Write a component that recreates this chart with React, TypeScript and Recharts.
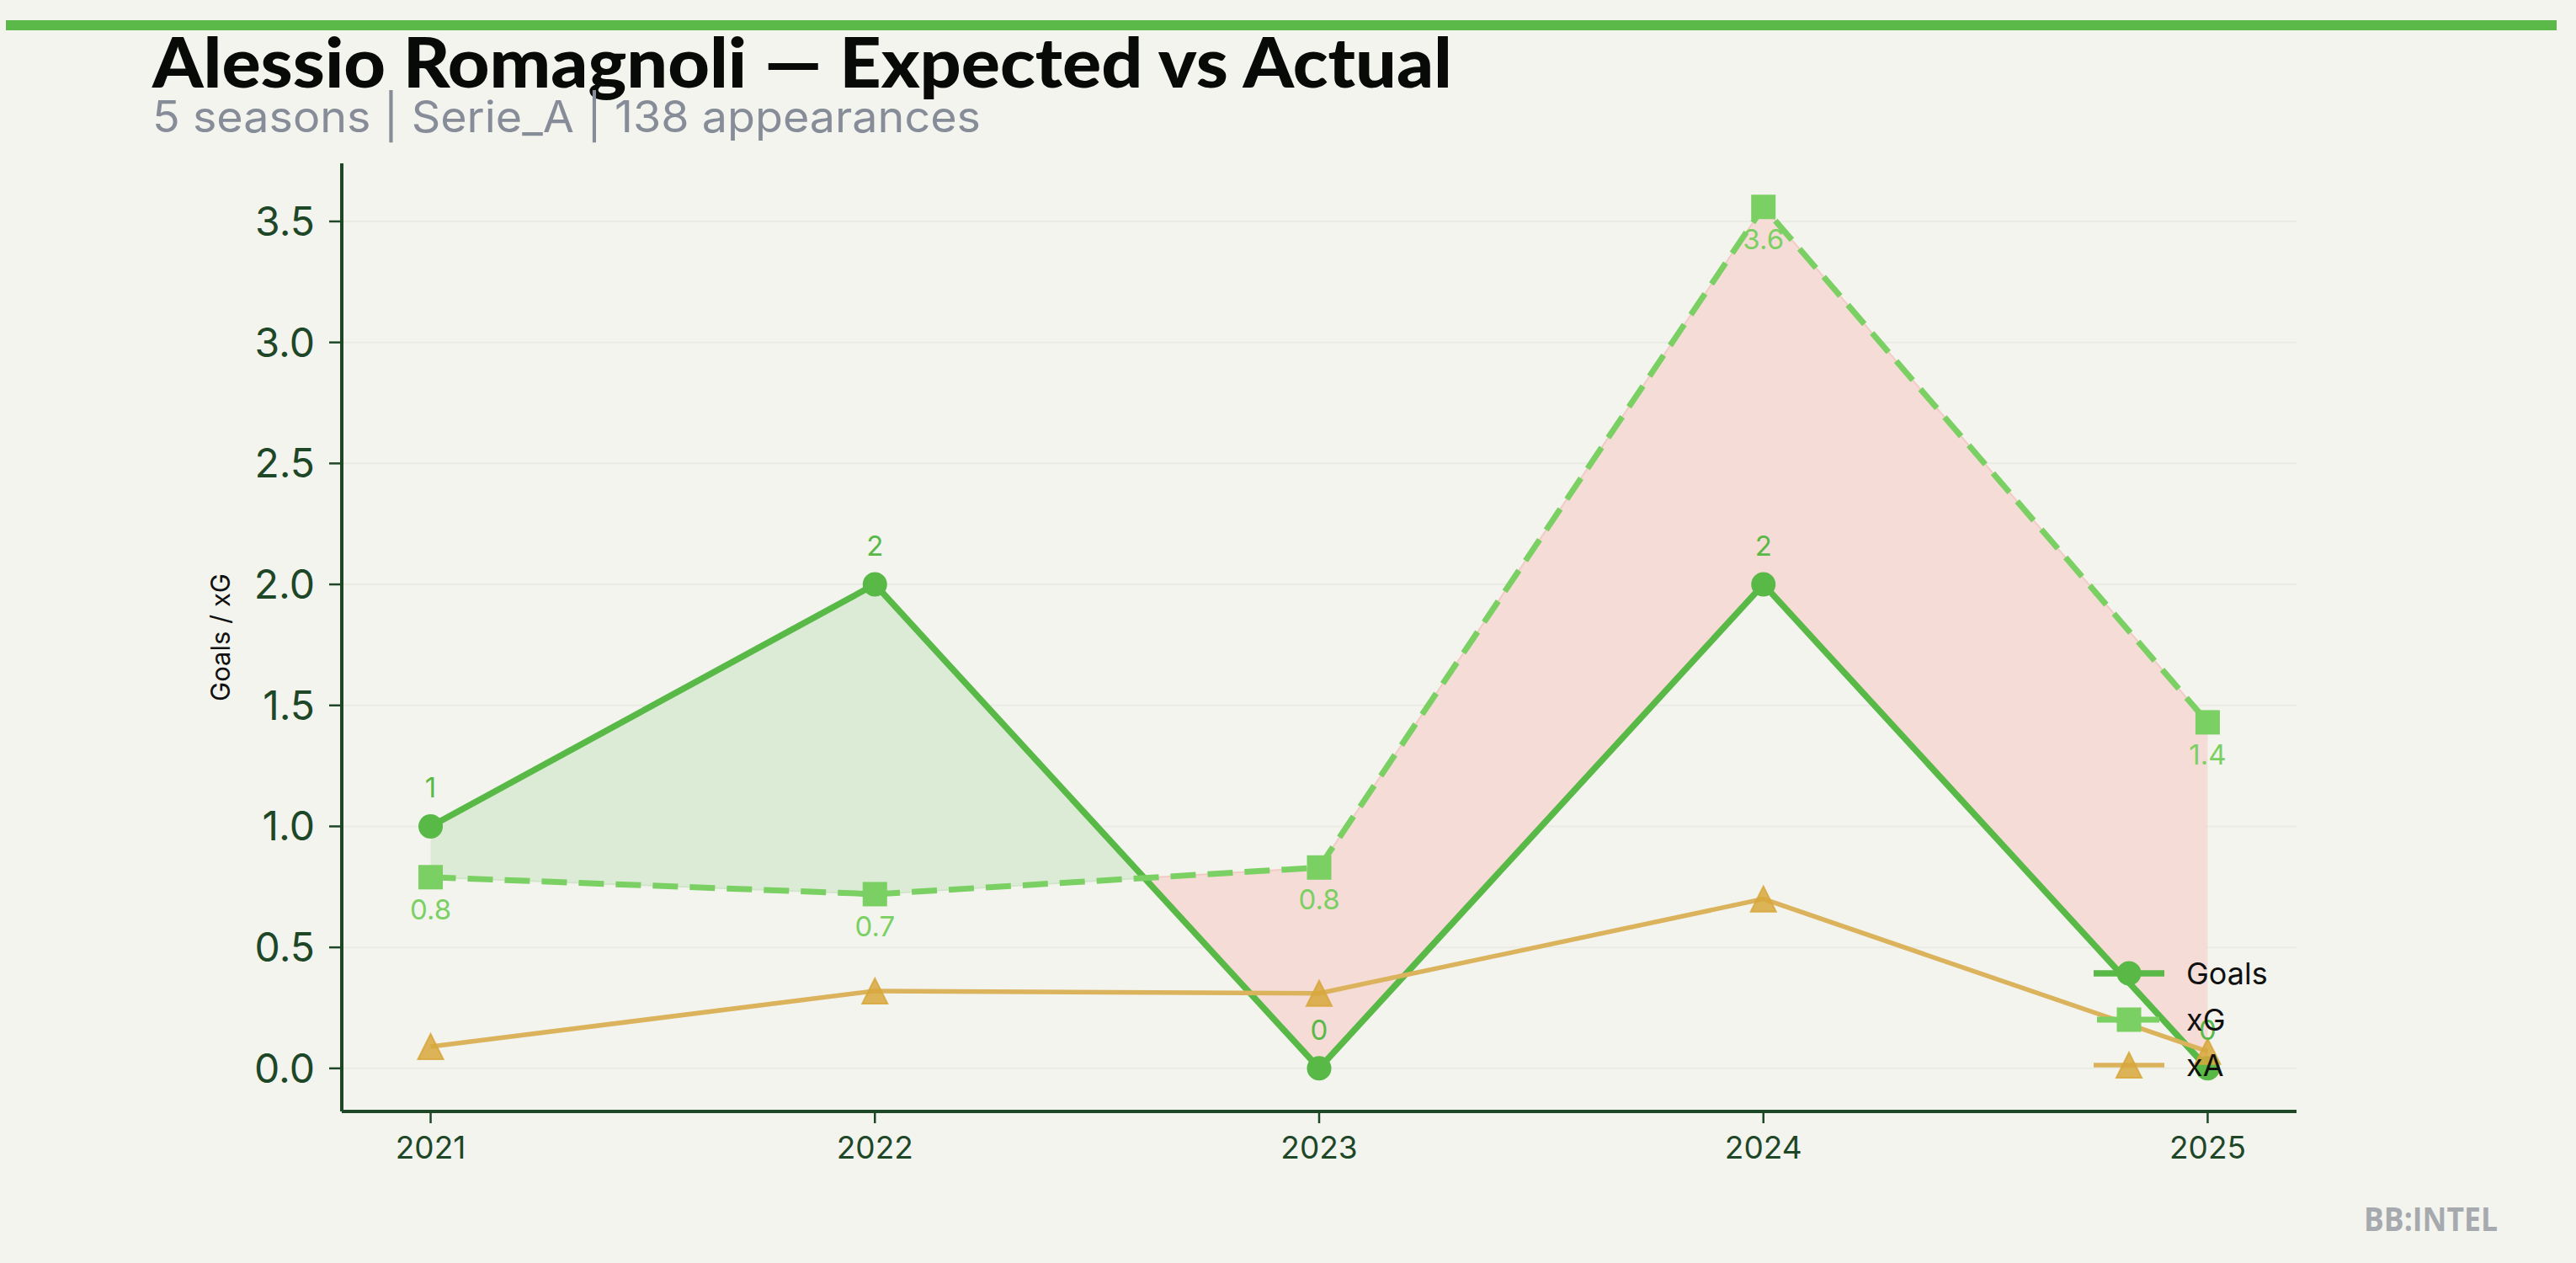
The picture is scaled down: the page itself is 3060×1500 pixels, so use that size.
import { ComposedChart, Line, Area, XAxis, YAxis, CartesianGrid, Legend, LabelList } from 'recharts'

// season values
const seasons = [2021, 2022, 2023, 2024, 2025]
const goals = [1, 2, 0, 2, 0]
const xgValues = [0.79, 0.72, 0.83, 3.56, 1.43]
const xaValues = [0.09, 0.32, 0.31, 0.7, 0.07]
const yTicks = [0, 0.5, 1, 1.5, 2, 2.5, 3, 3.5]
const seriesNames = ['Goals', 'xG', 'xA']

const BG = '#f4f4ef'
const GOALS = '#58b947'
const XG = '#7bd063'
const XA = '#dbb35d'
const XA_MARK = '#d7a73b'
const AXIS = '#1d4727'

type Row = {
  season: number
  goals: number | null
  xg: number | null
  xa: number | null
  over: [number, number] | null
  under: [number, number] | null
}

// rows for lines + the two fills (goals above xG = green, below = red),
// with an extra row where the two lines cross so the fills meet cleanly
const rows: Row[] = []
seasons.forEach((s, i) => {
  const g = goals[i]
  const x = xgValues[i]
  rows.push({
    season: s,
    goals: g,
    xg: x,
    xa: xaValues[i],
    over: g >= x ? [x, g] : null,
    under: x >= g ? [g, x] : null,
  })
  if (i < seasons.length - 1) {
    const d0 = g - x
    const d1 = goals[i + 1] - xgValues[i + 1]
    if (d0 * d1 < 0) {
      const t = d0 / (d0 - d1)
      const v = g + t * (goals[i + 1] - g)
      rows.push({ season: s + t * (seasons[i + 1] - s), goals: null, xg: null, xa: null, over: [v, v], under: [v, v] })
    }
  }
})

const GoalDot = (p: any) =>
  p.cy == null || p.value == null ? <g key={`gd-${p.index}`} /> : <circle key={`gd-${p.index}`} cx={p.cx} cy={p.cy} r={14.5} fill={GOALS} />

const XgDot = (p: any) =>
  p.cy == null || p.value == null ? <g key={`xd-${p.index}`} /> : <rect key={`xd-${p.index}`} x={p.cx - 14.5} y={p.cy - 14.5} width={29} height={29} fill={XG} />

const XaDot = (p: any) =>
  p.cy == null || p.value == null ? (
    <g key={`ad-${p.index}`} />
  ) : (
    <polygon
      key={`ad-${p.index}`}
      points={`${p.cx},${p.cy - 15} ${p.cx - 15},${p.cy + 15} ${p.cx + 15},${p.cy + 15}`}
      fill={XA_MARK}
      fillOpacity={0.85}
      stroke={XA_MARK}
      strokeOpacity={0.85}
      strokeWidth={2}
    />
  )

const goalLabel = (p: any) =>
  p.value == null ? null : (
    <text x={p.x} y={p.y - 46} dy="0.36em" textAnchor="middle" fill={GOALS} fontSize={33}>
      {String(p.value)}
    </text>
  )

const xgLabel = (p: any) =>
  p.value == null ? null : (
    <text x={p.x} y={p.y + 38} dy="0.36em" textAnchor="middle" fill={XG} fontSize={33}>
      {Number(p.value).toFixed(1)}
    </text>
  )

const legendIcon = (name: string) => {
  if (name === 'Goals')
    return (
      <svg width={84} height={34}>
        <line x1={0} y1={17} x2={84} y2={17} stroke={GOALS} strokeWidth={7.5} />
        <circle cx={42} cy={17} r={14.5} fill={GOALS} />
      </svg>
    )
  if (name === 'xG')
    return (
      <svg width={84} height={34}>
        <line x1={4} y1={17} x2={80} y2={17} stroke={XG} strokeWidth={7} strokeDasharray="30 14" />
        <rect x={27.5} y={2.5} width={29} height={29} fill={XG} />
      </svg>
    )
  return (
    <svg width={84} height={34}>
      <line x1={0} y1={17} x2={84} y2={17} stroke={XA} strokeWidth={5.5} />
      <polygon points="42,2 27,32 57,32" fill={XA_MARK} fillOpacity={0.85} stroke={XA_MARK} strokeOpacity={0.85} strokeWidth={2} />
    </svg>
  )
}

const renderLegend = () => (
  <div style={{ fontFamily: 'Inter', fontSize: 36, color: '#111' }}>
    {seriesNames.map((n) => (
      <div key={n} style={{ display: 'flex', alignItems: 'center', height: 54.5 }}>
        {legendIcon(n)}
        <span style={{ marginLeft: 26, lineHeight: 1 }}>{n}</span>
      </div>
    ))}
  </div>
)

export default function App() {
  return (
    <div style={{ position: 'absolute', left: 0, top: 0, width: 3060, height: 1500, background: BG, overflow: 'hidden' }}>
      <ComposedChart
        width={3060}
        height={1500}
        data={rows}
        margin={{ top: 194, right: 332, bottom: 100, left: 286 }}
        style={{ fontFamily: 'Inter' }}
      >
        <CartesianGrid horizontal vertical={false} horizontalValues={yTicks} stroke="#eaebe3" strokeWidth={2} />
        <XAxis
          dataKey="season"
          type="number"
          domain={[2020.8, 2025.2]}
          ticks={seasons}
          allowDataOverflow
          height={80}
          axisLine={{ stroke: AXIS, strokeWidth: 4 }}
          tickLine={{ stroke: AXIS, strokeWidth: 2.5 }}
          tickSize={14}
          tickMargin={16}
          tick={{ fill: AXIS, fontSize: 37 }}
        />
        <YAxis
          type="number"
          domain={[-0.178, 3.74]}
          ticks={yTicks}
          allowDataOverflow
          width={120}
          axisLine={{ stroke: AXIS, strokeWidth: 4 }}
          tickLine={{ stroke: AXIS, strokeWidth: 2.5 }}
          tickSize={15}
          tickMargin={17}
          tick={{ fill: AXIS, fontSize: 48 }}
          tickFormatter={(v: number) => v.toFixed(1)}
        />
        <Area dataKey="over" type="linear" fill="#dcebd6" fillOpacity={1} stroke="#d2e5cb" strokeWidth={2} isAnimationActive={false} legendType="none" />
        <Area dataKey="under" type="linear" fill="#f6dcd7" fillOpacity={1} stroke="#f1cbc6" strokeWidth={2} isAnimationActive={false} legendType="none" />
        <Line dataKey="goals" name="Goals" type="linear" stroke={GOALS} strokeWidth={7.5} connectNulls dot={GoalDot} activeDot={false} isAnimationActive={false}>
          <LabelList dataKey="goals" content={goalLabel} />
        </Line>
        <Line dataKey="xg" name="xG" type="linear" stroke={XG} strokeWidth={7} strokeDasharray="30 14" connectNulls dot={XgDot} activeDot={false} isAnimationActive={false}>
          <LabelList dataKey="xg" content={xgLabel} />
        </Line>
        <Line dataKey="xa" name="xA" type="linear" stroke={XA} strokeWidth={5.5} connectNulls dot={XaDot} activeDot={false} isAnimationActive={false} />
        <Legend
          layout="horizontal"
          verticalAlign="middle"
          align="center"
          wrapperStyle={{ left: 2487, top: 1129, width: 'auto', height: 'auto' }}
          content={renderLegend}
        />
      </ComposedChart>
      <svg width={3060} height={1500} style={{ position: 'absolute', left: 0, top: 0, pointerEvents: 'none' }}>
        <rect x={7} y={24} width={3030} height={12} fill="#5ab948" />
        <text x={181} y={104} fontFamily="Lato, Inter" fontWeight={900} fontSize={82} fill="#080a08" textLength={1544} lengthAdjust="spacingAndGlyphs">
          Alessio Romagnoli — Expected vs Actual
        </text>
        <text x={181} y={157} fontFamily="Inter" fontSize={52} fill="#878d98" textLength={984} lengthAdjust="spacingAndGlyphs">
          5 seasons | Serie_A | 138 appearances
        </text>
        <text x={273} y={757} transform="rotate(-90 273 757)" textAnchor="middle" fontFamily="Inter" fontSize={31} fill="#111">
          Goals / xG
        </text>
        <text x={2808} y={1462} fontFamily="Open Sans" fontWeight={700} fontSize={40} fill="#a6a9ae" textLength={159} lengthAdjust="spacingAndGlyphs">
          BB:INTEL
        </text>
      </svg>
    </div>
  )
}
